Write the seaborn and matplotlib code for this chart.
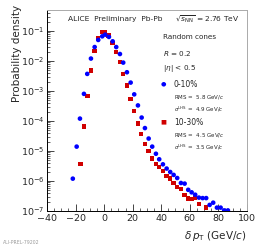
import matplotlib
matplotlib.use('Agg')
import matplotlib.pyplot as plt
import numpy as np
import pandas as pd
import seaborn as sb

# delta pT distributions (GeV/c, probability density)
x_0_10 = [-21.9, -19.2, -16.9, -14.1, -11.8, -9.2, -6.6, -4.1, -1.3, 0.8,
          3.4, 6.0, 8.5, 11.1, 13.4, 16.0, 18.6, 21.1, 23.7, 26.3,
          28.6, 31.2, 33.7, 36.3, 38.6, 41.2, 43.8, 46.3, 48.7, 51.2,
          53.8, 56.4, 58.9, 61.3, 63.8, 66.4, 69.0, 71.5, 73.9, 76.4,
          79.0, 81.6, 84.1, 86.7]
y_0_10 = [1.2e-6, 1.4e-5, 1.2e-4, 8.0e-4, 3.7e-3, 1.2e-2, 2.9e-2, 5.0e-2, 6.6e-2, 7.5e-2,
          6.3e-2, 4.5e-2, 2.9e-2, 1.7e-2, 8.8e-3, 4.2e-3, 1.9e-3, 7.7e-4, 3.3e-4, 1.3e-4,
          5.8e-5, 2.6e-5, 1.4e-5, 8.1e-6, 5.3e-6, 3.6e-6, 2.6e-6, 2.0e-6, 1.6e-6, 1.26e-6,
          8.6e-7, 8.2e-7, 5.1e-7, 4.2e-7, 3.5e-7, 2.8e-7, 2.7e-7, 2.7e-7, 1.6e-7, 1.9e-7,
          1.3e-7, 1.3e-7, 1.05e-7, 1.05e-7]

x_10_30 = [-16.4, -14.1, -11.5, -9.2, -6.6, -4.1, -1.5, 0.8, 3.2, 6.0,
           8.5, 11.1, 13.4, 16.0, 18.6, 21.1, 23.7, 26.0, 28.6, 31.2,
           33.7, 36.3, 38.6, 41.2, 43.8, 46.3, 48.7, 51.2, 53.8, 56.4,
           58.9, 61.3, 63.8, 66.4, 71.5]
y_10_30 = [3.7e-6, 6.6e-5, 6.9e-4, 4.8e-3, 2.1e-2, 5.7e-2, 9.1e-2, 9.1e-2, 7.0e-2, 3.9e-2,
           1.95e-2, 9.1e-3, 3.7e-3, 1.5e-3, 5.5e-4, 2.1e-4, 8.3e-5, 3.7e-5, 1.7e-5, 1.0e-5,
           5.7e-6, 3.7e-6, 2.9e-6, 2.2e-6, 1.5e-6, 1.2e-6, 8.6e-7, 6.3e-7, 5.5e-7, 3.5e-7,
           2.6e-7, 2.5e-7, 2.7e-7, 1.7e-7, 1.3e-7]

blue = '#0000ff'
red = '#d00000'

sb.set_style('ticks')
plt.rcParams['font.family'] = ['DejaVu Sans']

fig = plt.figure(figsize=(2.58, 2.48), dpi=100)
ax = fig.add_axes([0.182, 0.149, 0.775, 0.811])

sb.scatterplot(x=x_0_10, y=y_0_10, ax=ax, marker='o', color=blue, s=11,
               edgecolor='none', linewidth=0, zorder=3)
sb.scatterplot(x=x_10_30, y=y_10_30, ax=ax, marker='s', color=red, s=10,
               edgecolor='none', linewidth=0, zorder=2)

ax.set_yscale('log')
ax.set_xlim(-40, 100)
ax.set_ylim(1e-7, 0.5)
ax.set_xticks([-40, -20, 0, 20, 40, 60, 80, 100])
ax.set_xticks(np.arange(-40, 101, 5), minor=True)
ax.tick_params(axis='both', which='both', direction='in', labelsize=6.8,
               top=False, right=False, pad=2)
ax.tick_params(axis='both', which='major', length=5, width=0.6)
ax.tick_params(axis='both', which='minor', length=2.5, width=0.5)
for s in ax.spines.values():
    s.set_linewidth(0.7)
    s.set_color('black')
ax.spines['top'].set_color('#aaaaaa')
ax.spines['right'].set_color('#aaaaaa')

# ROOT style: y title at top, x title at right
ax.set_ylabel('Probability density', fontsize=7.5)
ax.yaxis.set_label_coords(-0.125, 1.025)
ax.yaxis.label.set_horizontalalignment('right')
ax.set_xlabel(r'$\delta\,p_{\rm T}$ (GeV/$c$)', fontsize=7.5)
ax.xaxis.set_label_coords(1.0, -0.09)
ax.xaxis.label.set_horizontalalignment('right')

# header
fig.text(0.264, 0.923, 'ALICE  Preliminary  Pb-Pb', fontsize=5.4, va='center')
fig.text(0.678, 0.923, r'$\sqrt{s_{\rm NN}}$ = 2.76 TeV', fontsize=5.4, va='center')

fig.text(0.632, 0.851, 'Random cones', fontsize=5.2, va='center')
fig.text(0.632, 0.786, r'$R$ = 0.2', fontsize=5.2, va='center')
fig.text(0.632, 0.722, r'|$\eta$| < 0.5', fontsize=5.2, va='center')

# legend-like block
fig.text(0.632, 0.661, '\u25cf', color=blue, fontsize=4.5, va='center', ha='center')
fig.text(0.674, 0.661, '0-10%', fontsize=5.5, va='center')
fig.text(0.674, 0.609, r'RMS =  5.8 GeV/$c$', fontsize=4.0, va='center')
fig.text(0.674, 0.560, r'$\sigma^{\rm LHS}$ =  4.9 GeV/$c$', fontsize=4.0, va='center')

fig.text(0.632, 0.508, '\u25a0', color=red, fontsize=4.5, va='center', ha='center')
fig.text(0.674, 0.508, '10-30%', fontsize=5.5, va='center')
fig.text(0.674, 0.456, r'RMS =  4.5 GeV/$c$', fontsize=4.0, va='center')
fig.text(0.674, 0.407, r'$\sigma^{\rm LHS}$ =  3.5 GeV/$c$', fontsize=4.0, va='center')

fig.text(0.012, 0.022, 'ALI-PREL-79202', fontsize=3.3, color='#999999', va='center')

fig.savefig('out.png', dpi=100)
